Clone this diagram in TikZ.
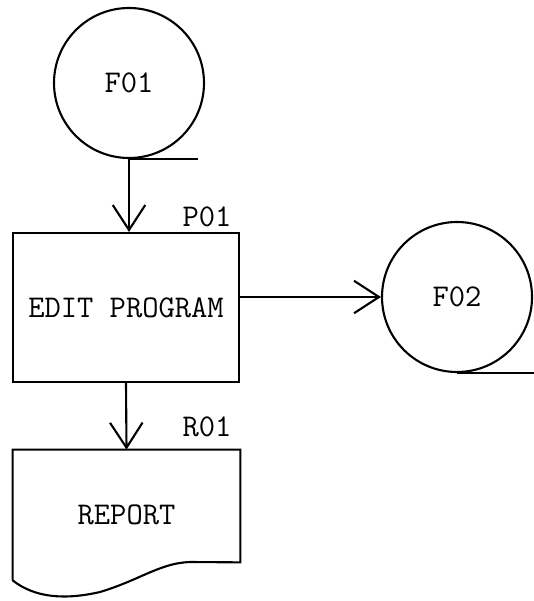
\documentclass[tikz,border=0pt]{standalone}
\usepackage{tikz}
\usetikzlibrary{arrows.meta, positioning, calc}
\tikzset{
  tape/.style={circle, draw, line width=1.2pt, minimum size=3cm, inner sep=0pt,
               font=\fontsize{18}{20}\selectfont\ttfamily},
  prog/.style={rectangle, draw, line width=1.2pt, minimum width=4.52cm,
               minimum height=2.98cm, font=\fontsize{18}{20}\selectfont\ttfamily},
  doc/.style={rectangle, minimum width=4.54cm, minimum height=2.6cm,
              font=\fontsize{18}{20}\selectfont\ttfamily},
  tag/.style={font=\fontsize{18}{20}\selectfont\ttfamily, inner sep=0pt},
  flow/.style={-{Straight Barb[length=5mm, width=6.5mm]}, line width=1.2pt}
}
\begin{document}
\begin{tikzpicture}
  \useasboundingbox (0,0) rectangle (10.66,-12.02);
  \node[tape] (f01) at (2.58,-1.66) {F01};
  \node[prog] (box) at (2.52,-6.15) {EDIT PROGRAM};
  \node[tape] (f02) at (9.14,-5.94) {F02};
  \node[doc] (rep) at (2.53,-10.3) {REPORT};
  \node[tag] (p01) at (4.14,-4.34) {P01};
  \node[tag] (r01) at (4.14,-8.54) {R01};
  % tape tails
  \draw[line width=1.2pt] (f01.south) -- ++(1.38,0);
  \draw[line width=1.2pt] (f02.south) -- ++(1.6,0);
  % report outline
  \draw[line width=1.2pt] (rep.south west) -- (rep.north west) -- (rep.north east)
    -- ([yshift=3.6mm]rep.south east) -- (3.8,-11.24)
    .. controls (3.2,-11.26) and (2.8,-11.6) .. (2.0,-11.84)
    .. controls (1.3,-12.0) and (0.7,-11.96) .. (rep.south west);
  % flows
  \draw[flow] (f01.south) -- (f01.south |- box.north);
  \draw[flow] (box.south) -- (rep.north);
  \draw[flow] (box.east |- f02) -- (f02.west);
\end{tikzpicture}
\end{document}
